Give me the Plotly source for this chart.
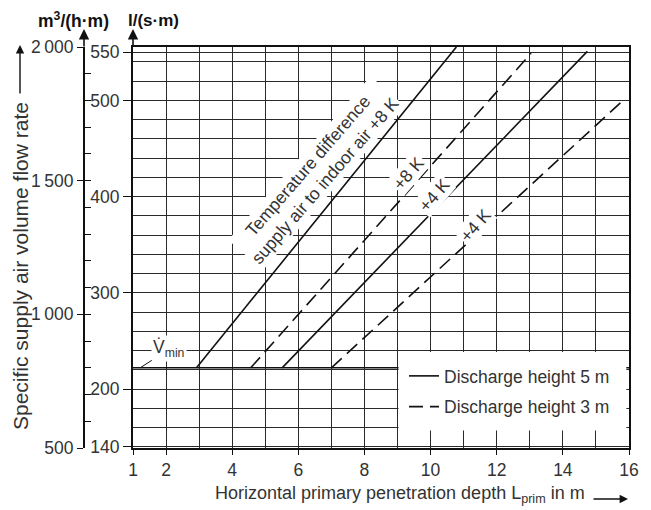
import plotly.graph_objects as go

# ---------------- data ----------------
x_tick_vals = [1, 2, 4, 6, 8, 10, 12, 14, 16]
x_minor_vals = [3, 5, 7, 9, 11, 13, 15]
y_ls_ticks = [140, 200, 300, 400, 500, 550]
y_ls_grid = list(range(160, 560, 20))
y_m3_ticks = [500, 1000, 1500, 2000]
y_m3_text = ["500", "1\u2009000", "1\u2009500", "2\u2009000"]
y_m3_range = [500, 2000]
v_min = 222.2  # l/(s·m)  (= 800 m³/(h·m))

line_names = ["+8 K, 5 m", "+8 K, 3 m", "+4 K, 5 m", "+4 K, 3 m"]
line_x = [[2.92, 10.78], [4.56, 13.04], [5.51, 14.74], [7.0, 15.82]]
line_y = [[v_min, 555.6], [v_min, 549.0], [v_min, 551.0], [v_min, 500.0]]
line_dash = ["solid", "14px,7px", "solid", "14px,7px"]
legend_names = ["Discharge height 5 m", "Discharge height 3 m", None, None]

label_text = ["Temperature difference<br>supply air to indoor air +8 K", "+8 K", "+4 K", "+4 K"]
label_x = [6.55, 9.34, 10.12, 11.37]
label_y = [424.0, 424.5, 401.5, 370.4]

# ---------------- geometry (reference pixel coords, page offset 8 px) ----------------
OFF = 8
W, H = 651 - OFF, 510 - OFF
ML, MR, MT, MB = 60 - OFF, 22, 47 - OFF, 62
PW = W - ML - MR
PH = H - MT - MB


def px(xpix):
    return (xpix - OFF - ML) / PW


def py(ypix):
    return (H - MB - (ypix - OFF)) / PH


FONT = "Liberation Sans, Arial, sans-serif"
TXT = "#333333"
GRID = "#2a2a2a"
INK = "#111111"
FS = 17.5

fig = go.Figure()

# V_min line
fig.add_trace(go.Scatter(x=[1, 16], y=[v_min, v_min], mode="lines",
                         line=dict(color=INK, width=1.6), showlegend=False,
                         hoverinfo="skip"))

for i in range(4):
    fig.add_trace(go.Scatter(
        x=line_x[i], y=line_y[i], mode="lines",
        line=dict(color=INK, width=1.6, dash=line_dash[i]),
        name=legend_names[i] if legend_names[i] else line_names[i],
        showlegend=legend_names[i] is not None,
        legendgroup="g%d" % i, hoverinfo="skip"))

# invisible traces to carry the m³/(h·m) axes
for ax in ("y2", "y3"):
    fig.add_trace(go.Scatter(x=[1, 1], y=y_m3_range, yaxis=ax, mode="lines",
                             line=dict(width=0), opacity=0, showlegend=False,
                             hoverinfo="skip"))

fig.update_layout(
    width=W, height=H,
    margin=dict(l=ML, r=MR, t=MT, b=MB, autoexpand=False),
    plot_bgcolor="white", paper_bgcolor="white",
    font=dict(family=FONT, size=FS, color=TXT),
    xaxis=dict(
        domain=[px(133), 1], range=[1, 16],
        tickmode="array", tickvals=x_tick_vals,
        ticks="outside", ticklen=5, tickcolor=INK, tickwidth=1.2,
        showgrid=True, gridcolor=GRID, gridwidth=1,
        minor=dict(tickmode="array", tickvals=x_minor_vals, showgrid=True,
                   gridcolor=GRID, gridwidth=1, ticks=""),
        showline=True, linewidth=2, linecolor=INK, mirror=True,
        zeroline=False, tickfont=dict(size=FS, color=TXT),
    ),
    yaxis=dict(
        range=[500 / 3.6, 2000 / 3.6],
        tickmode="array", tickvals=y_ls_ticks,
        ticks="outside", ticklen=8, tickcolor=INK, tickwidth=1.2,
        showgrid=True, gridcolor=GRID, gridwidth=1,
        minor=dict(tickmode="array", tickvals=y_ls_grid, showgrid=True,
                   gridcolor=GRID, gridwidth=1, ticks=""),
        showline=True, linewidth=2, linecolor=INK, mirror=True,
        zeroline=False, tickfont=dict(size=FS, color=TXT),
    ),
    yaxis2=dict(
        overlaying="y", anchor="free", position=px(84), side="left",
        range=y_m3_range, tickmode="array", tickvals=y_m3_ticks,
        ticktext=y_m3_text,
        ticks="outside", ticklen=6, tickcolor=INK, tickwidth=1.2,
        showline=True, linewidth=2, linecolor=INK, showgrid=False,
        zeroline=False, tickfont=dict(size=FS, color=TXT),
    ),
    yaxis3=dict(
        overlaying="y", anchor="free", position=px(84), side="left",
        range=y_m3_range, dtick=100, tick0=500, showticklabels=False,
        ticks="inside", ticklen=6, tickcolor=INK, tickwidth=1.2,
        showline=False, showgrid=False, zeroline=False,
    ),
    legend=dict(x=px(404), y=py(358), xanchor="left", yanchor="top",
                bgcolor="rgba(0,0,0,0)", font=dict(size=FS, color=TXT),
                tracegroupgap=5, itemwidth=30),
)

# white legend panel
fig.add_shape(type="rect", xref="x", yref="y", x0=9.03, x1=15.92, y0=157.2,
              y1=238.6, fillcolor="white", line=dict(width=0), layer="above")

ann = []
# rotated line labels
for i in range(4):
    ann.append(dict(x=label_x[i], y=label_y[i], xref="x", yref="y",
                    text=label_text[i], showarrow=False, textangle=-49,
                    bgcolor="white", font=dict(size=FS, color=TXT),
                    borderpad=1))
# V_min label with leader
ann.append(dict(x=1.22, y=v_min, xref="x", yref="y",
                text="V\u0307<sub>min</sub>", showarrow=True, arrowhead=0,
                arrowwidth=1, arrowcolor=INK, ax=29, ay=-19, standoff=0,
                bgcolor="white", font=dict(size=FS, color=TXT)))
# unit labels
ann.append(dict(x=px(73), y=py(20), xref="paper", yref="paper",
                xanchor="center", yanchor="middle",
                text="<b>m<sup>3</sup>/(h·m)</b>", showarrow=False,
                font=dict(size=FS, color="#111111")))
ann.append(dict(x=px(153), y=py(20), xref="paper", yref="paper",
                xanchor="center", yanchor="middle",
                text="<b>l/(s·m)</b>", showarrow=False,
                font=dict(size=17, color="#111111")))
# axis arrows
for xp in (84, 133):
    ann.append(dict(x=px(xp), y=py(29), xref="paper", yref="paper", text="",
                    showarrow=True, arrowhead=2, arrowsize=1.3, arrowwidth=1.6,
                    arrowcolor=INK, ax=0, ay=19))
# x title
ann.append(dict(x=px(587), y=py(495), xref="paper", yref="paper",
                xanchor="right", yanchor="middle",
                text="Horizontal primary penetration depth L<sub>prim</sub> in m",
                showarrow=False, font=dict(size=18, color=TXT)))
ann.append(dict(x=px(628), y=py(499), xref="paper", yref="paper", text="",
                showarrow=True, arrowhead=2, arrowsize=1.2, arrowwidth=1.4,
                arrowcolor=INK, ax=-36, ay=0))
# y title
ann.append(dict(x=px(20), y=py(266), xref="paper", yref="paper",
                xanchor="center", yanchor="middle", textangle=-90,
                text="Specific supply air volume flow rate",
                showarrow=False, font=dict(size=21, color=TXT)))
ann.append(dict(x=px(20), y=py(45), xref="paper", yref="paper", text="",
                showarrow=True, arrowhead=2, arrowsize=1.2, arrowwidth=1.4,
                arrowcolor=INK, ax=0, ay=50))
fig.update_layout(annotations=ann)

fig.write_html("out.html")
